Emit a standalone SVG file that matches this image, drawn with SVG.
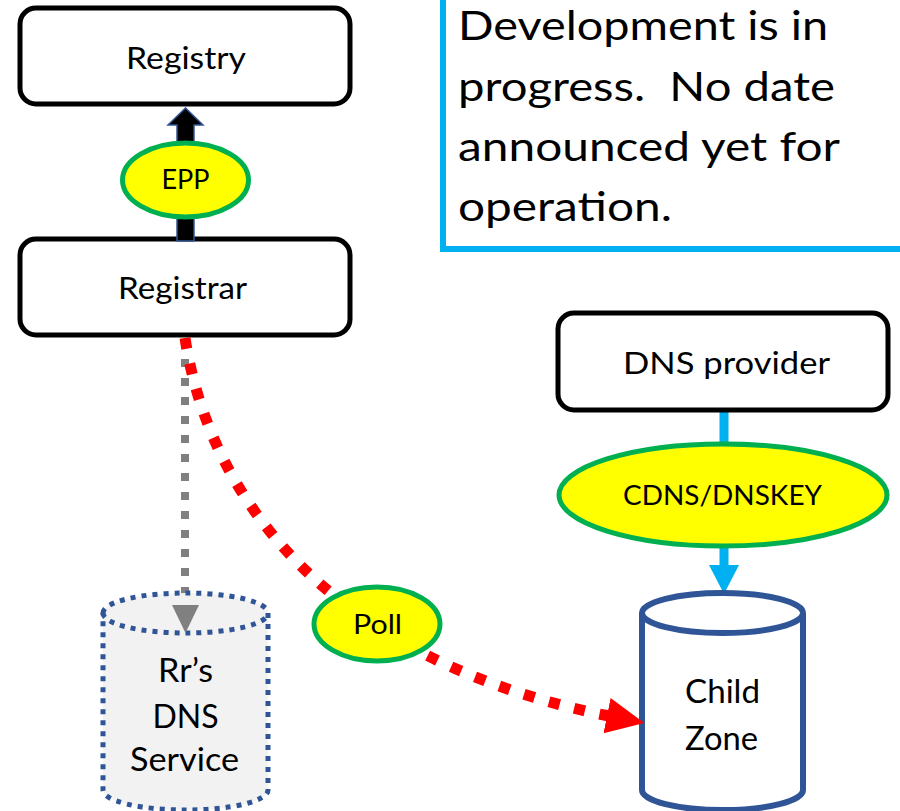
<svg xmlns="http://www.w3.org/2000/svg" width="900" height="811" viewBox="0 0 900 811">
<defs>
<style>
.box{fill:#fff;stroke:#000;stroke-width:5}
text{font-family:Lato,"Open Sans",sans-serif;fill:#000;text-anchor:middle}
.t30{font-size:30px}
.t27{font-size:27px}
.t32{font-size:32px}
.info{font-size:40px;text-anchor:start}
.oval{fill:#ffff00;stroke:#00b050;stroke-width:5}
</style>
<marker id="redHead" markerUnits="userSpaceOnUse" markerWidth="40" markerHeight="40" viewBox="0 0 40 40" refX="2" refY="20" orient="auto">
<path d="M0,2 L38,20 L0,38 z" fill="#ff0000"/>
</marker>
</defs>

<g id="connectors">
<line x1="185" y1="340" x2="185" y2="606" stroke="#808080" stroke-width="8" stroke-dasharray="8 11"/>
<line x1="724" y1="410" x2="724" y2="566" stroke="#00b0f0" stroke-width="9"/>
<polygon points="709,565 739,565 724,594" fill="#00b0f0"/>
</g>

<g id="info-box">
<rect x="443" y="-10" width="470" height="259" fill="#fff" stroke="#00b0f0" stroke-width="6"/>
<text class="info" x="458" y="40" textLength="370" lengthAdjust="spacingAndGlyphs">Development is in</text>
<text class="info" x="458" y="101" xml:space="preserve" textLength="377" lengthAdjust="spacingAndGlyphs">progress.  No date</text>
<text class="info" x="458" y="161" textLength="382" lengthAdjust="spacingAndGlyphs">announced yet for</text>
<text class="info" x="458" y="221" textLength="214" lengthAdjust="spacingAndGlyphs">operation.</text>
</g>

<g id="registry">
<rect class="box" x="20" y="8" width="330" height="96" rx="16"/>
<text class="t30" x="186" y="69" textLength="120" lengthAdjust="spacingAndGlyphs">Registry</text>
</g>

<g id="registrar">
<rect class="box" x="20" y="239" width="330" height="96" rx="16"/>
<text class="t30" x="182.5" y="299" textLength="129" lengthAdjust="spacingAndGlyphs">Registrar</text>
</g>

<g id="epp-arrow">
<polygon points="177,241 177,125 168,125 185.5,108 203,125 194,125 194,241" fill="#000" stroke="#2f5597" stroke-width="1.5"/>
</g>

<g id="epp">
<ellipse class="oval" cx="185.5" cy="180" rx="63" ry="37"/>
<text class="t27" x="185.5" y="189">EPP</text>
</g>

<g id="dns-provider">
<rect class="box" x="558" y="313" width="330" height="97" rx="16"/>
<text class="t30" x="726.5" y="374" textLength="207" lengthAdjust="spacingAndGlyphs">DNS provider</text>
</g>

<g id="cdns">
<ellipse class="oval" cx="723" cy="495" rx="164" ry="51"/>
<text class="t27" x="722.5" y="505" textLength="199" lengthAdjust="spacingAndGlyphs">CDNS/DNSKEY</text>
</g>

<g id="rr-dns">
<path d="M103,613 A82.5,20 0 0,1 268,613 V790 A82.5,20 0 0,1 103,790 Z" fill="#f2f2f2" stroke="#2f5597" stroke-width="5" stroke-dasharray="5 6"/>
<path d="M103,613 A82.5,20 0 0,0 268,613" fill="none" stroke="#2f5597" stroke-width="5" stroke-dasharray="5 6"/>
<text class="t32" x="185.5" y="682" textLength="55" lengthAdjust="spacingAndGlyphs">Rr’s</text>
<text class="t32" x="185.5" y="728">DNS</text>
<text class="t32" x="184.5" y="771" textLength="109" lengthAdjust="spacingAndGlyphs">Service</text>
</g>

<g id="gray-head">
<polygon points="172,605 199,605 185.5,633" fill="#808080"/>
</g>

<g id="child-zone">
<path d="M642,613 A80.5,20 0 0,1 803,613 V790 A80.5,20 0 0,1 642,790 Z" fill="#fff" stroke="#2f5597" stroke-width="6"/>
<path d="M642,613 A80.5,20 0 0,0 803,613" fill="none" stroke="#2f5597" stroke-width="6"/>
<text class="t32" x="722.5" y="703" textLength="75" lengthAdjust="spacingAndGlyphs">Child</text>
<text class="t32" x="721.5" y="750" textLength="73" lengthAdjust="spacingAndGlyphs">Zone</text>
</g>

<g id="poll-connector">
<path d="M185,338 C210,500 330,660 609,716" fill="none" stroke="#ff0000" stroke-width="11" stroke-dasharray="11 15" marker-end="url(#redHead)"/>
</g>

<g id="poll">
<ellipse class="oval" cx="377" cy="624" rx="63" ry="37"/>
<text class="t27" x="377.5" y="634" textLength="49" lengthAdjust="spacingAndGlyphs">Poll</text>
</g>
</svg>
